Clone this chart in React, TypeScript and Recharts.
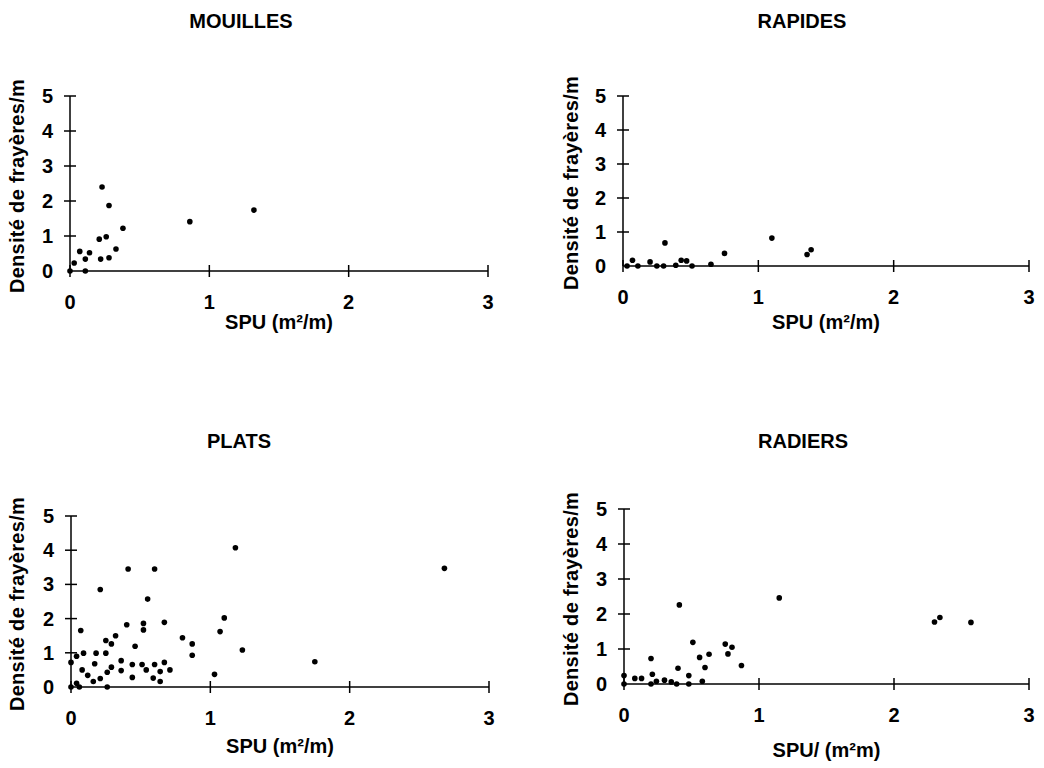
import { ScatterChart, Scatter, XAxis, YAxis } from 'recharts'

const xTicks = [0, 1, 2, 3]
const yTicks = [0, 1, 2, 3, 4, 5]

const mouillesSpu = [0, 0.03, 0.07, 0.11, 0.11, 0.14, 0.21, 0.22, 0.23, 0.26, 0.28, 0.28, 0.33, 0.38, 0.86, 1.32]
const mouillesDensite = [0, 0.23, 0.56, 0, 0.34, 0.52, 0.91, 0.34, 2.4, 0.98, 0.38, 1.87, 0.63, 1.22, 1.41, 1.74]

const rapidesSpu = [0.03, 0.07, 0.11, 0.2, 0.25, 0.3, 0.31, 0.39, 0.43, 0.47, 0.51, 0.65, 0.75, 1.1, 1.36, 1.39]
const rapidesDensite = [0, 0.17, 0, 0.12, 0, 0, 0.68, 0.02, 0.17, 0.15, 0, 0.05, 0.37, 0.82, 0.34, 0.48]

const platsSpu = [
  0, 0, 0.04, 0.04, 0.07, 0.09, 0.06, 0.08, 0.12, 0.16, 0.17, 0.18, 0.21, 0.21, 0.25, 0.25, 0.26,
  0.26, 0.29, 0.29, 0.32, 0.36, 0.36, 0.4, 0.41, 0.44, 0.44, 0.46, 0.51, 0.52, 0.52, 0.54, 0.55,
  0.6, 0.59, 0.6, 0.64, 0.64, 0.67, 0.67, 0.71, 0.8, 0.87, 0.87, 1.03, 1.07, 1.1, 1.18, 1.23, 1.75, 2.68,
]
const platsDensite = [
  0.72, 0, 0.9, 0.11, 1.65, 0.99, 0, 0.5, 0.34, 0.16, 0.68, 0.99, 0.25, 2.85, 0.99, 1.36, 0.43,
  0, 1.26, 0.58, 1.5, 0.77, 0.48, 1.82, 3.45, 0.28, 0.66, 1.19, 0.66, 1.86, 1.67, 0.5, 2.57,
  3.45, 0.26, 0.66, 0.45, 0.16, 1.89, 0.72, 0.5, 1.44, 1.26, 0.93, 0.37, 1.62, 2.02, 4.07, 1.08, 0.74, 3.47,
]

const radiersSpu = [
  0, 0, 0.08, 0.13, 0.2, 0.2, 0.21, 0.24, 0.3, 0.35, 0.4, 0.41, 0.39, 0.48, 0.48, 0.51, 0.56,
  0.58, 0.6, 0.63, 0.75, 0.77, 0.8, 0.87, 1.15, 2.3, 2.34, 2.57,
]
const radiersDensite = [
  0.24, 0, 0.16, 0.16, 0.73, 0, 0.28, 0.08, 0.11, 0.06, 0.45, 2.26, 0, 0.24, 0, 1.19, 0.76,
  0.08, 0.47, 0.85, 1.14, 0.86, 1.05, 0.53, 2.46, 1.77, 1.9, 1.76,
]

const font = '"Liberation Sans", Arial, sans-serif'

const toPoints = (xs: number[], ys: number[]) => xs.map((x, i) => ({ x, y: ys[i] }))

const XTick = (props: any) => {
  const { x, y, payload } = props
  return (
    <g>
      <line x1={x} y1={y - 6} x2={x} y2={y + 6} stroke="#000" strokeWidth={1.5} />
      <text x={x} y={y + 31} textAnchor="middle" dominantBaseline="central" fontSize={20} fontWeight="bold" fontFamily={font} fill="#000">
        {payload.value}
      </text>
    </g>
  )
}

const YTick = (props: any) => {
  const { x, y, payload } = props
  return (
    <g>
      {payload.value !== 0 && <line x1={x - 6} y1={y} x2={x + 6} y2={y} stroke="#000" strokeWidth={1.5} />}
      <text x={x - 17} y={y} textAnchor="end" dominantBaseline="central" fontSize={20} fontWeight="bold" fontFamily={font} fill="#000">
        {payload.value}
      </text>
    </g>
  )
}

const Dot = (props: any) => <circle cx={props.cx} cy={props.cy} r={2.8} fill="#000" />

const labelStyle = {
  position: 'absolute' as const,
  fontFamily: font,
  fontWeight: 'bold' as const,
  fontSize: 20,
  color: '#000',
  whiteSpace: 'nowrap' as const,
  lineHeight: 1,
}

interface PanelProps {
  title: string
  xLabel: string
  data: { x: number; y: number }[]
  left: number
  right: number
  top: number
  bottom: number
  titleX: number
  titleY: number
  xLabelY: number
  yLabelX: number
}

function Panel({ title, xLabel, data, left, right, top, bottom, titleX, titleY, xLabelY, yLabelX }: PanelProps) {
  const w = right - left
  const h = bottom - top
  return (
    <>
      <div style={{ ...labelStyle, left: titleX, top: titleY, transform: 'translate(-50%, -50%)' }}>{title}</div>
      <div style={{ ...labelStyle, left: (left + right) / 2, top: xLabelY, transform: 'translate(-50%, -50%)' }}>{xLabel}</div>
      <div style={{ ...labelStyle, left: yLabelX, top: (top + bottom) / 2 + 2, transform: 'translate(-50%, -50%) rotate(-90deg)', letterSpacing: 0.3 }}>
        Densité de frayères/m
      </div>
      <div style={{ position: 'absolute', left: left - 60, top: top - 15 }}>
        <ScatterChart width={w + 80} height={h + 65} margin={{ top: 15, right: 20, bottom: 0, left: 0 }}>
          <XAxis
            type="number"
            dataKey="x"
            domain={[0, 3]}
            ticks={xTicks}
            height={50}
            tickSize={0}
            tickMargin={0}
            tickLine={false}
            axisLine={{ stroke: '#000', strokeWidth: 1.5 }}
            tick={<XTick />}
            interval={0}
          />
          <YAxis
            type="number"
            dataKey="y"
            domain={[0, 5]}
            ticks={yTicks}
            width={60}
            tickSize={0}
            tickMargin={0}
            tickLine={false}
            axisLine={{ stroke: '#000', strokeWidth: 1.5 }}
            tick={<YTick />}
            interval={0}
          />
          <Scatter data={data} shape={<Dot />} isAnimationActive={false} />
        </ScatterChart>
      </div>
    </>
  )
}

export default function App() {
  return (
    <div style={{ position: 'absolute', left: 0, top: 0, width: 1044, height: 768, background: '#fff', overflow: 'hidden' }}>
      <Panel
        title="MOUILLES"
        xLabel="SPU (m²/m)"
        data={toPoints(mouillesSpu, mouillesDensite)}
        left={70}
        right={488}
        top={96}
        bottom={271}
        titleX={241}
        titleY={21}
        xLabelY={322}
        yLabelX={17}
      />
      <Panel
        title="RAPIDES"
        xLabel="SPU (m²/m)"
        data={toPoints(rapidesSpu, rapidesDensite)}
        left={623}
        right={1029}
        top={96}
        bottom={266}
        titleX={802}
        titleY={21}
        xLabelY={322}
        yLabelX={571}
      />
      <Panel
        title="PLATS"
        xLabel="SPU (m²/m)"
        data={toPoints(platsSpu, platsDensite)}
        left={71}
        right={489}
        top={516}
        bottom={687}
        titleX={239}
        titleY={441}
        xLabelY={746}
        yLabelX={17}
      />
      <Panel
        title="RADIERS"
        xLabel="SPU/ (m²m)"
        data={toPoints(radiersSpu, radiersDensite)}
        left={624}
        right={1029}
        top={509}
        bottom={684}
        titleX={803}
        titleY={441}
        xLabelY={750}
        yLabelX={571}
      />
    </div>
  )
}
